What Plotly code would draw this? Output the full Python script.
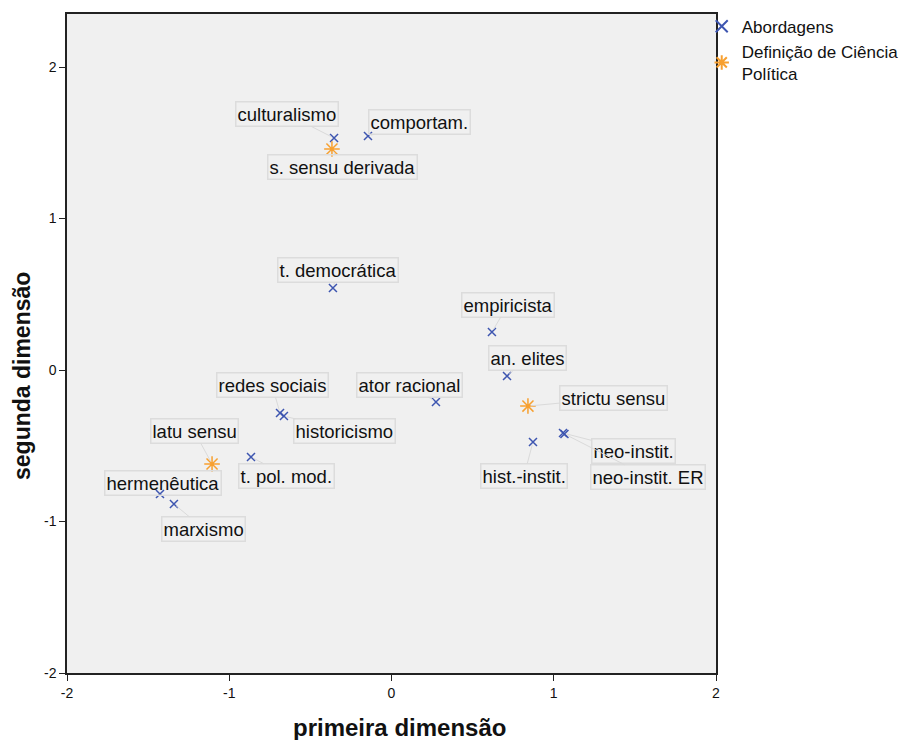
import plotly.graph_objects as go

# Abordagens (blue x)
abord_labels = ["culturalismo", "comportam.", "t. democrática", "empiricista", "an. elites",
                "ator racional", "hist.-instit.", "neo-instit.", "neo-instit. ER", "redes sociais",
                "historicismo", "t. pol. mod.", "hermenêutica", "marxismo"]
abord_x = [-0.354, -0.145, -0.361, 0.619, 0.712, 0.274, 0.872, 1.057, 1.066, -0.687, -0.663, -0.866, -1.427, -1.341]
abord_y = [1.531, 1.545, 0.541, 0.251, -0.040, -0.211, -0.475, -0.416, -0.422, -0.284, -0.304, -0.574, -0.818, -0.884]
# label offsets (pixels)
abord_ax = [-47, 52, 5, 16, 20, -26, -9, 70, 84, -8, 61, 36, 3, 30]
abord_ay = [-24, -14, -18, -27, -18, -17, 34, 18, 43, -28, 15, 19, -11, 25]

# Definição de Ciência Política (orange asterisk)
def_labels = ["s. sensu derivada", "strictu sensu", "latu sensu"]
def_x = [-0.367, 0.841, -1.106]
def_y = [1.459, -0.238, -0.620]
def_ax = [11, 86, -18]
def_ay = [18, -8, -33]

BLUE = "#3D55B0"
ORANGE = "#F7A030"
FONT = "Liberation Sans, Arial, sans-serif"

fig = go.Figure()
fig.add_trace(go.Scatter(x=abord_x, y=abord_y, mode="markers", name="Abordagens",
                         marker=dict(symbol="x-thin-open", size=8, color=BLUE,
                                     line=dict(color=BLUE, width=1.5))))
fig.add_trace(go.Scatter(x=def_x, y=def_y, mode="markers", name="Definição de Ciência<br>Política",
                         marker=dict(symbol="asterisk-open", size=13, color=ORANGE,
                                     line=dict(color=ORANGE, width=1.5))))

for lbls, xs, ys, axs, ays in [(abord_labels, abord_x, abord_y, abord_ax, abord_ay),
                               (def_labels, def_x, def_y, def_ax, def_ay)]:
    for t, x, y, a, b in zip(lbls, xs, ys, axs, ays):
        fig.add_annotation(x=x, y=y, text=t, showarrow=True, arrowhead=0, arrowwidth=1,
                           arrowcolor="#DADADA", ax=a, ay=b, standoff=3,
                           bordercolor="#DCDCDC", borderwidth=1.5, borderpad=1,
                           bgcolor="rgba(240,240,240,0)",
                           font=dict(family=FONT, size=18.5, color="#111111"))

# axis titles as annotations (positioned like the reference)
fig.add_annotation(xref="paper", yref="paper", x=(399 - 67) / 649, y=-(728 - 673) / 659,
                   text="<b>primeira dimensão</b>", showarrow=False,
                   xanchor="center", yanchor="middle",
                   font=dict(family=FONT, size=24, color="#111111"))
fig.add_annotation(xref="paper", yref="paper", x=-(67 - 22) / 649, y=(673 - 376) / 659,
                   text="<b>segunda dimensão</b>", showarrow=False, textangle=-90,
                   xanchor="center", yanchor="middle",
                   font=dict(family=FONT, size=23, color="#111111"))

# page body has an 8px margin: figure is drawn 8px right/down in the window
fig.update_layout(
    width=916, height=732,
    margin=dict(l=59, r=208, t=6, b=67, autoexpand=False),
    paper_bgcolor="white", plot_bgcolor="#F0F0F0",
    font=dict(family=FONT, color="#111111"),
    showlegend=True,
    legend=dict(x=0.978, y=1.008, xanchor="left", yanchor="top",
                font=dict(family=FONT, size=17), bgcolor="rgba(0,0,0,0)",
                itemsizing="constant", tracegroupgap=0),
)
fig.update_xaxes(range=[-2, 2], tickvals=[-2, -1, 0, 1, 2], ticktext=["-2", "-1", "0", "1", "2"],
                 automargin=False,
                 showgrid=False, zeroline=False, showline=True, linecolor="#222222", linewidth=1.5,
                 mirror=True, ticks="outside", ticklen=6, tickcolor="#222222",
                 tickfont=dict(size=14, family=FONT))
fig.update_yaxes(range=[-2, 2.35], tickvals=[-2, -1, 0, 1, 2], ticktext=["-2", "-1", "0", "1", "2"],
                 automargin=False,
                 showgrid=False, zeroline=False, showline=True, linecolor="#222222", linewidth=1.5,
                 mirror=True, ticks="outside", ticklen=6, tickcolor="#222222",
                 tickfont=dict(size=14, family=FONT))

fig.write_html("out.html")
